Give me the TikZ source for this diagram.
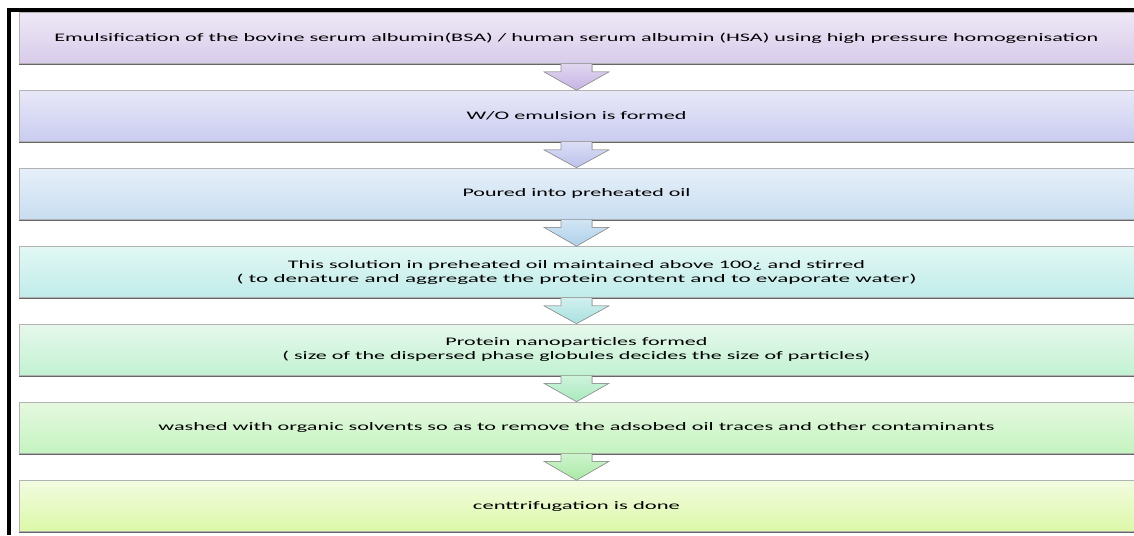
\documentclass[tikz,border=0pt]{standalone}
\usepackage{fontspec}
\setmainfont{Carlito}
\usetikzlibrary{calc,shadows}
\newcommand{\sx}[2]{\resizebox{#1pt}{\height}{#2}}
\definecolor{t1}{HTML}{EEE8F6}\definecolor{u1}{HTML}{D8CBEA}
\definecolor{t2}{HTML}{E8E8F8}\definecolor{u2}{HTML}{CACCF0}
\definecolor{t3}{HTML}{E6F0FA}\definecolor{u3}{HTML}{C8DDF0}
\definecolor{t4}{HTML}{E2F8F4}\definecolor{u4}{HTML}{C0ECEA}
\definecolor{t5}{HTML}{E6F8EC}\definecolor{u5}{HTML}{C2F2D2}
\definecolor{t6}{HTML}{E6F8E0}\definecolor{u6}{HTML}{C4F4C0}
\definecolor{t7}{HTML}{F2FCE0}\definecolor{u7}{HTML}{DCF8A8}
\definecolor{ar1}{HTML}{C6B4E4}
\definecolor{ar2}{HTML}{BCC2EC}
\definecolor{ar3}{HTML}{AED0EA}
\definecolor{ar4}{HTML}{A8E2E0}
\definecolor{ar5}{HTML}{A8EABE}
\definecolor{ar6}{HTML}{A8EAA4}
\tikzset{
  box/.style={rectangle, minimum width=1115pt, minimum height=51pt, draw=gray!60,
    line width=0.7pt, general shadow={fill=black!60, shadow yshift=-1.8pt, shadow xshift=0.4pt},
    font=\fontsize{11.5}{14}\selectfont, text=black, align=center, inner sep=0pt},
  arrline/.style={draw=gray!85, line width=0.6pt}
}
\newcommand{\flowarrow}[3]{%
  \fill[top color=#3!55, bottom color=#3] let \p1=(#1.south), \p2=(#2.north) in
    (\x1-15.5pt,\y1) -- (\x1-15.5pt,\y1-8pt) -- (\x1-32.5pt,\y1-8pt) -- (\x1,\y2)
    -- (\x1+32.5pt,\y1-8pt) -- (\x1+15.5pt,\y1-8pt) -- (\x1+15.5pt,\y1) -- cycle;
  \draw[arrline] let \p1=(#1.south), \p2=(#2.north) in
    (\x1-15.5pt,\y1) -- (\x1-15.5pt,\y1-8pt) -- (\x1-32.5pt,\y1-8pt) -- (\x1,\y2)
    -- (\x1+32.5pt,\y1-8pt) -- (\x1+15.5pt,\y1-8pt) -- (\x1+15.5pt,\y1);
}
\begin{document}
\begin{tikzpicture}[x=1pt,y=-1pt]
\useasboundingbox[fill=white] (0,0) rectangle (1134,535);
% frame
\fill[black] (7,8) rectangle (11,535);
\fill[black] (7,8) rectangle (1134,12);
% boxes
\node[box, top color=t1, bottom color=u1] (b1) at (576.5,38)
  {\sx{1044}{Emulsification of the bovine serum albumin(BSA) / human serum albumin (HSA) using high pressure homogenisation}};
\node[box, top color=t2, bottom color=u2] (b2) at (576.5,116)
  {\sx{220}{W/O emulsion is formed}};
\node[box, top color=t3, bottom color=u3] (b3) at (576.5,193.5)
  {\sx{228}{Poured into preheated oil}};
\node[box, top color=t4, bottom color=u4] (b4) at (576.5,272)
  {\sx{577}{This solution in preheated oil maintained above 100¿ and stirred}\\
   \sx{680}{( to denature and aggregate the protein content and to evaporate water)}};
\node[box, top color=t5, bottom color=u5] (b5) at (576.5,349.5)
  {\sx{262}{Protein nanoparticles formed}\\
   \sx{588}{( size of the dispersed phase globules decides the size of particles)}};
\node[box, top color=t6, bottom color=u6] (b6) at (576.5,427.5)
  {\sx{836}{washed with organic solvents so as to remove the adsobed oil traces and other contaminants}};
\node[box, top color=t7, bottom color=u7] (b7) at (576.5,506)
  {\sx{207}{centtrifugation is done}};
% arrows
\flowarrow{b1}{b2}{ar1}
\flowarrow{b2}{b3}{ar2}
\flowarrow{b3}{b4}{ar3}
\flowarrow{b4}{b5}{ar4}
\flowarrow{b5}{b6}{ar5}
\flowarrow{b6}{b7}{ar6}
\end{tikzpicture}
\end{document}
